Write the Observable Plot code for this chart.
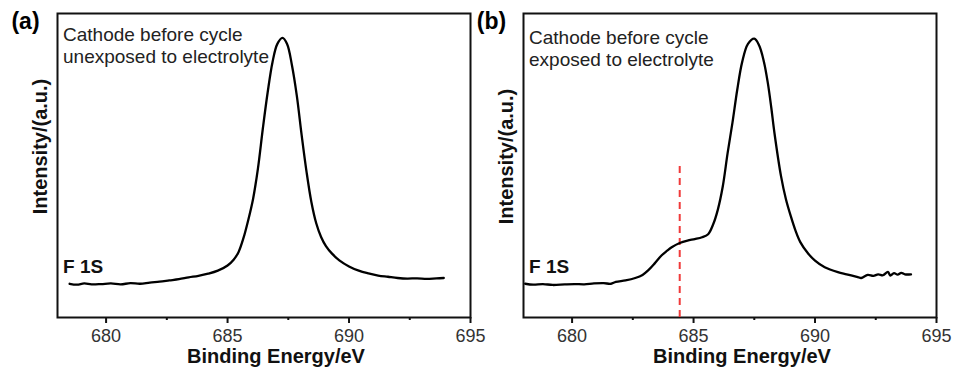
<!DOCTYPE html>
<html>
<head>
<meta charset="utf-8">
<script src="https://cdn.jsdelivr.net/npm/d3@7"></script>
<script src="https://cdn.jsdelivr.net/npm/@observablehq/plot@0.6"></script>
<style>
  html, body { margin: 0; padding: 0; background: #fff; }
  #chart { width: 953px; height: 372px; }
</style>
</head>
<body>
<div id="chart"></div>
<script>
// ---- data ----
const panels = ["a", "b"];
const panelTitles = ["(a)", "(b)"];
const annotations = ["Cathode before cycle\nunexposed to electrolyte", "Cathode before cycle\nexposed to electrolyte"];
const peakLabel = "F 1S";
const xLabel = "Binding Energy/eV";
const yLabel = "Intensity/(a.u.)";
const majorTicks = [680, 685, 690, 695];
const minorTicks = [682.5, 687.5, 692.5];

const energyA = [678.5, 678.8, 679.1, 679.4, 679.8, 680.2, 680.6, 681.0, 681.4, 681.8, 682.2, 682.6, 683.0, 683.4, 683.8, 684.2, 684.6, 685.0, 685.25, 685.45, 685.65, 685.85, 686.05, 686.25, 686.45, 686.65, 686.85, 687.05, 687.26, 687.45, 687.65, 687.85, 688.05, 688.25, 688.45, 688.65, 688.85, 689.05, 689.3, 689.6, 690.0, 690.4, 690.8, 691.2, 691.6, 692.0, 692.4, 692.8, 693.2, 693.6, 693.9];
const intensityA = [11.1, 10.8, 11.2, 10.9, 11.0, 11.2, 10.9, 11.3, 11.1, 11.5, 11.8, 12.2, 12.6, 13.2, 13.7, 14.4, 15.4, 17.1, 19.0, 21.5, 26, 32, 39, 49, 62, 74, 84, 90, 92, 90, 83, 73, 60, 48, 38, 31, 26.5, 23.5, 21, 18.8, 16.8, 15.4, 14.5, 13.8, 13.4, 13.0, 12.8, 12.9, 12.7, 12.9, 13.0];

const energyB = [678.07, 678.4, 678.8, 679.2, 679.7, 680.1, 680.5, 680.9, 681.3, 681.6, 681.8, 682.2, 682.6, 682.9, 683.13, 683.4, 683.68, 683.9, 684.1, 684.43, 684.75, 685.05, 685.35, 685.6, 685.8, 686.0, 686.2, 686.4, 686.6, 686.8, 687.0, 687.24, 687.5, 687.7, 687.9, 688.06, 688.2, 688.33, 688.6, 688.8, 689.0, 689.2, 689.4, 689.7, 690.0, 690.4, 690.94, 691.3, 691.76, 691.9, 692.17, 692.4, 692.6, 692.8, 693.0, 693.1, 693.25, 693.4, 693.55, 693.7, 693.95];
const intensityB = [11.1, 10.8, 11.0, 10.7, 10.9, 11.0, 10.9, 11.2, 11.3, 11.1, 11.7, 12.2, 13.0, 14.0, 15.5, 17.8, 20.4, 21.9, 23.1, 24.5, 25.3, 25.8, 26.4, 27.4, 30.5, 35.5, 43, 54, 64, 75, 84, 90, 91.7, 89.5, 84, 77, 69, 60.7, 46.5, 39, 33.4, 28.5, 24.7, 21.2, 18.7, 16.5, 14.9, 14.2, 13.3, 13.0, 14.0, 13.7, 14.2, 13.9, 15.0, 13.8, 14.6, 14.1, 14.7, 14.2, 14.2];

const markerPanel = "b";
const markerEnergy = 684.43;
const markerTop = 49.8;

// ---- tables built from the arrays ----
const spectra = [
  ...energyA.map((e, i) => ({panel: "a", energy: e, intensity: intensityA[i]})),
  ...energyB.map((e, i) => ({panel: "b", energy: e, intensity: intensityB[i]}))
];
const panelInfo = panels.map((p, i) => ({panel: p, title: panelTitles[i], note: annotations[i], peak: peakLabel, xl: xLabel, yl: yLabel}));
const markers = [{panel: markerPanel, energy: markerEnergy, top: markerTop}];

const FONT = "'Liberation Sans', Arial, Helvetica, sans-serif";

const marks = [
  Plot.frame({stroke: "#111", strokeWidth: 2}),
  Plot.ruleX(markers, {x: "energy", y1: 0, y2: "top", fx: "panel", stroke: "#f03a3a", strokeWidth: 2, strokeDasharray: "7,5"}),
  Plot.line(spectra, {x: "energy", y: "intensity", fx: "panel", z: "panel", stroke: "#000", strokeWidth: 2.3, curve: "catmull-rom"}),
];

if (typeof Plot.axisX === "function") {
  marks.push(
    Plot.axisX({ticks: majorTicks, tickSize: 6, tickPadding: 6, strokeWidth: 2, fontSize: 18, fill: "#333", tickFormat: d => String(d), label: null}),
    Plot.axisX({ticks: minorTicks, tickSize: 3, strokeWidth: 2, text: null, label: null})
  );
}

// per-panel texts (offsets slightly differ between panels in the reference)
const noteDy = {a: 11, b: 14};
const yLabDy = {a: -19, b: -9};
for (const p of panels) {
  const d = panelInfo.filter(r => r.panel === p);
  marks.push(
    Plot.text(d, {fx: "panel", text: "note", frameAnchor: "top-left", textAnchor: "start", lineAnchor: "top", dx: 5.5, dy: noteDy[p], fontSize: 19, lineHeight: 1.2, fill: "#222"}),
    Plot.text(d, {fx: "panel", text: "yl", frameAnchor: "left", textAnchor: "middle", lineAnchor: "middle", rotate: -90, dx: -16.5, dy: yLabDy[p], fontSize: 20, fontWeight: "bold", fill: "#111"})
  );
}
marks.push(
  Plot.text(panelInfo, {fx: "panel", text: "title", frameAnchor: "top-left", textAnchor: "middle", lineAnchor: "middle", dx: -32, dy: 8, fontSize: 23, fontWeight: 900, fill: "#000"}),
  Plot.text(panelInfo, {fx: "panel", text: "peak", frameAnchor: "bottom-left", textAnchor: "start", lineAnchor: "middle", dx: 5.5, dy: -51, fontSize: 19, fontWeight: "bold", fill: "#111"}),
  Plot.text(panelInfo, {fx: "panel", text: "xl", frameAnchor: "bottom", textAnchor: "middle", lineAnchor: "middle", dx: 12, dy: 39, fontSize: 20, fontWeight: "bold", fill: "#111"})
);

const chart = Plot.plot({
  width: 953,
  height: 372,
  marginLeft: 56.5,
  marginRight: 17,
  marginTop: 13,
  marginBottom: 55,
  fx: {domain: panels, paddingInner: 0.1136, paddingOuter: 0, axis: null, label: null},
  x: Object.assign({domain: [678, 695], label: null}, typeof Plot.axisX === "function" ? {} : {ticks: majorTicks, tickSize: 6, tickPadding: 6, tickFormat: d => String(d)}),
  y: {domain: [0, 100], axis: null},
  style: {fontFamily: FONT, fontSize: "18px", color: "#111", background: "white", overflow: "visible"},
  marks
});
document.getElementById("chart").appendChild(chart);
</script>
</body>
</html>
